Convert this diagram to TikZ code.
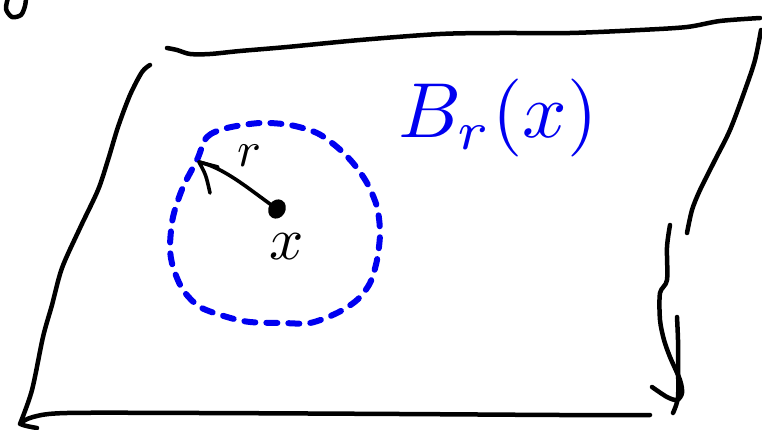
\documentclass[tikz,border=0pt]{standalone}
\usepackage{graphicx}
\usepackage{tikz}
\definecolor{penblue}{RGB}{0,0,240}
\tikzset{
  pen/.style={line width=4.5pt, line cap=round, line join=round, black},
  ballline/.style={line width=6pt, line cap=round, penblue, dash pattern=on 11pt off 11pt},
  hand/.style={inner sep=0pt, anchor=center}
}
\begin{document}
\begin{tikzpicture}[x=1pt,y=-1pt]
\useasboundingbox (0,0) rectangle (762,430);
% fragment at top-left
\draw[pen] plot[smooth] coordinates {(8,-2) (6,9) (12,17) (21,15) (25,6) (26,-2)};
% left edge
\draw[pen] plot[smooth] coordinates {(150,65) (142,72) (130,95) (118,127) (108,160) (98,190) (80,228) (62,268) (52,305) (43,337) (32,390) (20,424)};
% bottom edge with corner hook
\draw[pen] plot[smooth] coordinates {(37,428) (21,424) (33,417) (67,413) (200,413) (400,414) (560,415) (650,415)};
% top edge
\draw[pen] plot[smooth] coordinates {(167,48) (177,50) (190,54) (210,54) (240,51) (287,47) (360,40) (440,34) (500,33) (570,33) (640,30) (687,27) (720,21) (760,18)};
% right edge
\draw[pen] plot[smooth] coordinates {(761,30) (755,60) (745,90) (730,130) (715,160) (700,190) (692,210) (687,233)};
% right lower strokes
\draw[pen] plot[smooth] coordinates {(670,225) (667,247) (667,280) (660,293) (660,320) (664,340) (670,357) (680,380) (682,393) (677,400) (667,397) (652,387)};
\draw[pen] plot[smooth] coordinates {(677,317) (678,340) (678,363) (678,397) (673,413)};
% ball
\draw[ballline] plot[smooth cycle] coordinates {(197,160) (207,137) (227,128) (260,123) (290,125) (317,133) (337,147) (353,163) (367,183) (377,207) (380,233) (377,260) (370,283) (357,300) (337,313) (310,323) (283,323) (250,322) (227,317) (200,307) (183,290) (173,267) (170,247) (173,217) (183,187)};
% centre point
\fill[rotate around={-30:(277,209)}] (277,209) ellipse (8.5pt and 10pt);
\coordinate (ctr) at (277,209);
\coordinate (tip) at (199,162);
% radius arrow
\draw[pen, line width=3.6pt] (ctr) .. controls (250,190) and (225,168) .. (tip);
\draw[pen, line width=3.6pt] (tip) -- (218,167);
\draw[pen, line width=3.6pt] (tip) .. controls (206,175) .. (210,193);
% labels
\node[hand] (rlab) at (249,156) {\scalebox{5}{$r$}};
\node[hand] (xlab) at (287,247) {\scalebox{6}{$x$}};
\node[hand, penblue] (blab) at (498,118) {\scalebox{7.8}{$B_r(x)$}};
\end{tikzpicture}
\end{document}
